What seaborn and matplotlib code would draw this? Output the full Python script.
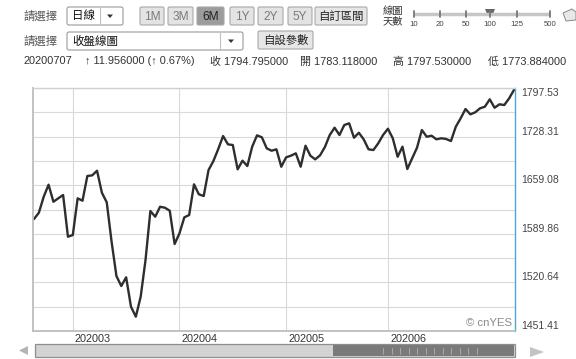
import numpy as np
import pandas as pd
import matplotlib
matplotlib.use('Agg')
import matplotlib.pyplot as plt
import matplotlib.transforms as mtransforms
from matplotlib.patches import FancyBboxPatch, Polygon, Rectangle
import seaborn as sns

# ---------------- data ----------------
values = [1610.9, 1619.9, 1642.7, 1659.8, 1635.5, 1640.4, 1645.1, 1585.7, 1588.1, 1640.4,
          1637.0, 1672.2, 1673.1, 1679.7, 1648.4, 1634.7, 1578.6, 1529.7, 1515.5, 1527.9,
          1486.0, 1471.8, 1500.2, 1552.5, 1622.3, 1614.2, 1628.4, 1627.0, 1622.7, 1575.3,
          1590.5, 1613.3, 1616.6, 1660.3, 1646.1, 1643.7, 1680.7, 1693.5, 1710.6, 1729.1,
          1717.3, 1716.3, 1681.7, 1694.0, 1686.4, 1713.9, 1730.1, 1727.3, 1711.6, 1708.2,
          1710.2, 1685.4, 1698.8, 1701.1, 1704.5, 1685.4, 1715.3, 1701.1, 1695.9, 1701.6,
          1713.5, 1730.6, 1741.0, 1730.6, 1744.8, 1747.2, 1726.7, 1733.8, 1724.4, 1710.2,
          1709.2, 1718.7, 1730.6, 1739.5, 1725.9, 1699.6, 1713.9, 1682.1, 1697.4, 1712.5,
          1737.7, 1728.1, 1729.6, 1724.4, 1725.9, 1724.9, 1722.0, 1742.4, 1754.3, 1767.6,
          1760.0, 1762.9, 1768.6, 1770.9, 1781.4, 1769.4, 1774.3, 1773.3, 1782.8, 1794.8]
month_labels = ['202003', '202004', '202005', '202006']
month_start_index = [8, 30, 52, 73]
y_tick_values = [1451.41, 1520.64, 1589.86, 1659.08, 1728.31, 1797.53]
range_buttons = ['1M', '3M', '6M', '1Y', '2Y', '5Y']
slider_labels = ['10', '20', '50', '100', '125', '500']
quote_date = '20200707'
quote_change = '↑ 11.956000 (↑ 0.67%)'
quote_names = ['收', '開', '高', '低']
quote_values = ['1794.795000', '1783.118000', '1797.530000', '1773.884000']

# ---------------- style ----------------
sns.set_style('white')
plt.rcParams['font.family'] = ['Liberation Sans', 'Noto Sans CJK TC', 'DejaVu Sans']

W, H = 576, 359
fig = plt.figure(figsize=(W / 100, H / 100), dpi=100)
fig.patch.set_facecolor('white')

# UI overlay in pixel coordinates
ui = fig.add_axes([0, 0, 1, 1], zorder=0)
ui.set_xlim(0, W)
ui.set_ylim(H, 0)
ui.axis('off')


def box(x0, y0, x1, y1, fc, ec, r=2.0, lw=0.8):
    ui.add_patch(FancyBboxPatch((x0, y0), x1 - x0, y1 - y0,
                                boxstyle=f'round,pad=0,rounding_size={r}',
                                fc=fc, ec=ec, lw=lw))


TXT = '#333333'
# Row 1
ui.text(23, 16.5, '請選擇', va='center', ha='left', fontsize=8.2, color='#555555')
box(67, 7, 123, 25, 'white', '#9a9a9a')
ui.text(72, 16.5, '日線', va='center', ha='left', fontsize=8.3, color='#111111')
ui.plot([100, 100], [8, 24], color='#c0c0c0', lw=0.8)
ui.add_patch(Polygon([(107, 14.5), (113, 14.5), (110, 18)], closed=True, fc='#333333', ec='none'))

btn_x = [(140, 164), (168, 193), (197, 224), (230, 254), (258, 283), (288, 312)]
for (x0, x1), lab in zip(btn_x, range_buttons):
    pressed = lab == '6M'
    box(x0, 7, x1, 25, '#9c9c9c' if pressed else '#e3e3e3', '#a8a8a8', r=1.5)
    ui.text((x0 + x1) / 2, 16.5, lab, va='center', ha='center', fontsize=8.6,
            color='#222222' if pressed else '#7a7a7a')
box(315, 7, 367, 25, '#e6e6e6', '#a8a8a8', r=1.5)
ui.text(341, 16.5, '自訂區間', va='center', ha='center', fontsize=8.2, color='#222222')

ui.text(383, 11, '線圖', va='center', ha='left', fontsize=7.4, color='#333333')
ui.text(383, 21.5, '天數', va='center', ha='left', fontsize=7.4, color='#333333')
slider_x = [414, 440, 466, 490, 517, 550]
ui.plot([414, 550], [14, 14], color='#c6c6c6', lw=2.5, solid_capstyle='butt')
for sx, sl in zip(slider_x, slider_labels):
    ui.plot([sx, sx], [11, 17], color='#777777', lw=1.3)
    ui.text(sx, 25, sl, va='center', ha='center', fontsize=5.6, color='#444444')
ui.add_patch(Polygon([(485, 9), (495, 9), (492.5, 15), (487.5, 15)], closed=True,
                     fc='#666666', ec='none'))
ui.add_patch(Polygon([(563, 13), (572, 9), (576, 12), (576, 20), (566, 21)], closed=True,
                     fc='#e8e8e8', ec='#888888', lw=0.7))

# Row 2
ui.text(23, 41.5, '請選擇', va='center', ha='left', fontsize=8.2, color='#555555')
box(67, 32, 243, 50, 'white', '#9a9a9a')
ui.text(72, 41.5, '收盤線圖', va='center', ha='left', fontsize=8.3, color='#111111')
ui.plot([220, 220], [33, 49], color='#c0c0c0', lw=0.8)
ui.add_patch(Polygon([(228, 39.5), (234, 39.5), (231, 43)], closed=True, fc='#333333', ec='none'))
box(258, 31, 313, 49, '#e6e6e6', '#a8a8a8', r=1.5)
ui.text(285.5, 40, '自設參數', va='center', ha='center', fontsize=8.2, color='#222222')

# Row 3
ui.text(23, 61.5, quote_date, va='center', ha='left', fontsize=7.9, color=TXT)
ui.text(85, 61.5, quote_change, va='center', ha='left', fontsize=7.9, color=TXT)
for qx, nm, vl in zip([210, 300, 393, 488], quote_names, quote_values):
    ui.text(qx, 61.5, f'{nm} {vl}', va='center', ha='left', fontsize=7.9, color=TXT)

# Bottom scroll bar
ui.add_patch(Polygon([(19, 350.5), (28, 346), (28, 355)], closed=True, fc='#b4b4b4', ec='none'))
ui.add_patch(Rectangle((35, 344), 480, 13, fc='#d3d3d3', ec='#8e8e8e', lw=0.9))
ui.add_patch(Rectangle((333, 345), 181, 11, fc='#7a7a7a', ec='none'))
for tx in np.arange(383, 478, 8.5):
    ui.plot([tx, tx], [347.5, 353.5], color='#b0b0b0', lw=0.6)
ui.add_patch(Polygon([(530, 347), (544, 352), (530, 357)], closed=True, fc='#c4c4c4', ec='none'))

# ---------------- chart ----------------
ax = fig.add_axes([33 / W, 1 - 331 / H, 482 / W, 243 / H], zorder=1)
ax.set_facecolor('white')
df = pd.DataFrame({'day': np.arange(len(values)), 'close': values})
sns.lineplot(data=df, x='day', y='close', ax=ax, color='#2e2e2e', linewidth=1.7)
ax.set_xlim(-0.21, len(values) - 1 + 0.21)
ax.set_ylim(y_tick_values[0], y_tick_values[-1])
ax.set_xlabel('')
ax.set_ylabel('')

ax.set_yticks(np.linspace(y_tick_values[0], y_tick_values[-1], 11))
ax.set_xticks(month_start_index)
ax.set_xticklabels([])
ax.set_yticklabels([])
ax.tick_params(length=0)
ax.grid(True, color='#d9d9d9', lw=0.8)
ax.set_axisbelow(True)
for side in ['top']:
    ax.spines[side].set_color('#d0d0d0')
    ax.spines[side].set_linewidth(1.0)
for side in ['left', 'bottom']:
    ax.spines[side].set_color('#bdbdbd')
    ax.spines[side].set_linewidth(1.3)
ax.spines['right'].set_color('#4aa6d4')
ax.spines['right'].set_linewidth(1.0)

ytrans = mtransforms.blended_transform_factory(ax.transAxes, ax.transData)
for v in y_tick_values:
    ax.text(1 + 6 / 482, v, f'{v:.2f}', transform=ytrans, ha='left',
            va='top' if v == max(y_tick_values) else 'bottom',
            fontsize=7.5, color='#444444', clip_on=False)

xtrans = mtransforms.blended_transform_factory(ax.transData, ax.transAxes)
for idx, lab in zip(month_start_index, month_labels):
    ax.text(idx + 0.45, -7.5 / 243, lab, transform=xtrans, ha='left', va='center',
            fontsize=7.8, color='#333333', clip_on=False)

ax.text(0.995, 0.012, '© cnYES', transform=ax.transAxes, ha='right', va='bottom',
        fontsize=8.2, color='#8a8a8a')

fig.savefig('out.png', dpi=100, facecolor='white')
